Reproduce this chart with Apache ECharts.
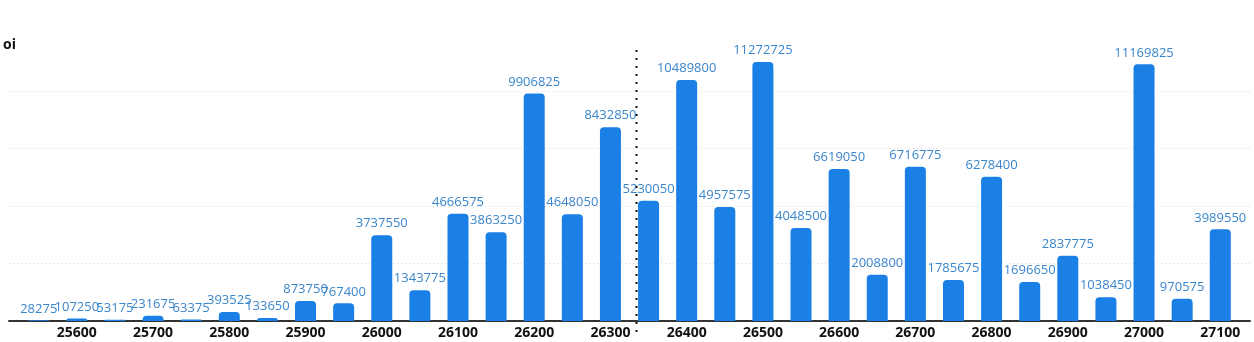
<!DOCTYPE html>
<html>
<head>
<meta charset="utf-8">
<script src="https://cdn.jsdelivr.net/npm/echarts@6/dist/echarts.min.js"></script>
<style>
html,body{margin:0;padding:0;background:#fff;}
#chart{width:1254px;height:342px;}
</style>
</head>
<body>
<div id="chart"></div>
<script>
const strikes = [25550,25600,25650,25700,25750,25800,25850,25900,25950,26000,26050,26100,26150,26200,26250,26300,26350,26400,26450,26500,26550,26600,26650,26700,26750,26800,26850,26900,26950,27000,27050,27100];
const oi = [28275,107250,53175,231675,63375,393525,133650,873750,767400,3737550,1343775,4666575,3863250,9906825,4648050,8432850,5230050,10489800,4957575,11272725,4048500,6619050,2008800,6716775,1785675,6278400,1696650,2837775,1038450,11169825,970575,3989550];
const tickLabels = [25600,25700,25800,25900,26000,26100,26200,26300,26400,26500,26600,26700,26800,26900,27000,27100];
const spot = 26334;
const xMin = 25511, xMax = 27139;
const yInterval = 2500000;
const lineTop = 11800000, lineBottom = -520000;

const chart = echarts.init(document.getElementById('chart'));
chart.setOption({
  animation: false,
  grid: {left: 9, right: 4, top: 62, bottom: 21},
  xAxis: {
    type: 'value',
    min: xMin, max: xMax,
    splitLine: {show: false},
    axisLine: {show: true, lineStyle: {color: '#333', width: 2}},
    axisTick: {show: false},
    axisLabel: {
      customValues: tickLabels,
      formatter: v => String(v),
      color: '#111', fontWeight: 'bold', fontSize: 14,
      fontFamily: 'Open Sans', margin: 5
    }
  },
  yAxis: {
    type: 'value',
    min: 0, max: 'dataMax',
    interval: yInterval,
    name: 'oi',
    nameGap: 10,
    nameTextStyle: {color: '#111', fontWeight: 'bold', fontSize: 14, fontFamily: 'Open Sans', align: 'left', padding: [0,0,0,-6]},
    axisLine: {show: false},
    axisTick: {show: false},
    axisLabel: {show: false},
    splitLine: {show: true, showMinLine: false, showMaxLine: false, lineStyle: {color: '#d8d8d8', type: [1, 3]}}
  },
  series: [{
    type: 'bar',
    data: strikes.map((s, i) => [s, oi[i]]),
    barWidth: 21,
    itemStyle: {color: '#1a80e6', borderRadius: [4, 4, 0, 0]},
    label: {
      show: true, position: 'top', distance: 5,
      color: '#3a86cc', fontSize: 13, fontFamily: 'Open Sans'
    }
  }]
});
const pTop = chart.convertToPixel({gridIndex: 0}, [spot, lineTop]);
const pBot = chart.convertToPixel({gridIndex: 0}, [spot, lineBottom]);
chart.setOption({
  graphic: [{
    type: 'line', silent: true, z: 10,
    shape: {x1: Math.round(pTop[0]) + 0.5, y1: pTop[1], x2: Math.round(pBot[0]) + 0.5, y2: pBot[1]},
    style: {stroke: '#111', lineWidth: 2, lineDash: [2, 6]}
  }]
});
</script>
</body>
</html>
